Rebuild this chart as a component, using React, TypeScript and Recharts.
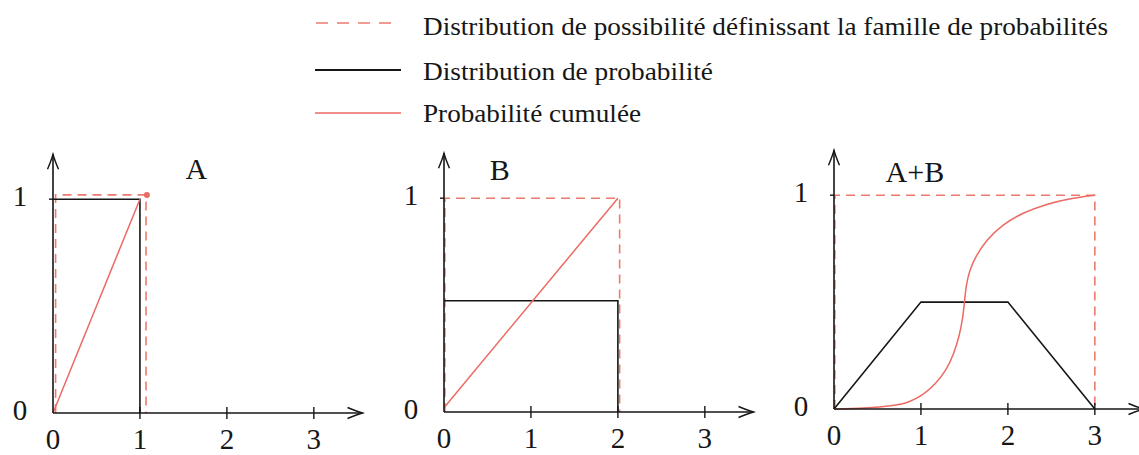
import React from 'react';
import { LineChart, Line, XAxis, YAxis, ReferenceLine, ReferenceDot } from 'recharts';

type Pt = { x: number; y: number };

// axis ticks shared by the three panels
const xTicks = [0, 1, 2, 3];
const yTicks = [0, 1];

// panel A : uniform on [0, 1]
const aPossibility: Pt[] = [
  { x: 0.03, y: 0 }, { x: 0.03, y: 1.02 }, { x: 1.07, y: 1.02 }, { x: 1.07, y: 0 },
];
const aDensity: Pt[] = [{ x: 0, y: 1 }, { x: 1, y: 1 }, { x: 1, y: 0 }];
const aCumulative: Pt[] = [{ x: 0, y: 0 }, { x: 1, y: 1 }];
const aPeak: Pt = { x: 1.08, y: 1.02 };

// panel B : uniform on [0, 2]
const bPossibility: Pt[] = [
  { x: 0.01, y: 0 }, { x: 0.01, y: 1 }, { x: 2.02, y: 1 }, { x: 2.02, y: 0 },
];
const bDensity: Pt[] = [{ x: 0, y: 0.52 }, { x: 2, y: 0.52 }, { x: 2, y: 0 }];
const bCumulative: Pt[] = [{ x: 0, y: 0.02 }, { x: 2, y: 1 }];

// panel A+B : trapezoid density and its S-shaped cumulative
const cPossibility: Pt[] = [
  { x: 0.01, y: 0 }, { x: 0.01, y: 1 }, { x: 3, y: 1 }, { x: 3, y: 0 },
];
const cDensity: Pt[] = [{ x: 0, y: 0 }, { x: 1, y: 0.5 }, { x: 2, y: 0.5 }, { x: 3, y: 0 }];
const cCumulative: Pt[] = [
  { x: 0, y: 0 }, { x: 0.33, y: 0.003 }, { x: 0.71, y: 0.016 }, { x: 0.86, y: 0.031 },
  { x: 1.02, y: 0.063 }, { x: 1.17, y: 0.118 }, { x: 1.29, y: 0.18 }, { x: 1.38, y: 0.26 },
  { x: 1.44, y: 0.34 }, { x: 1.48, y: 0.42 }, { x: 1.5, y: 0.5 }, { x: 1.52, y: 0.58 },
  { x: 1.56, y: 0.65 }, { x: 1.63, y: 0.714 }, { x: 1.75, y: 0.79 }, { x: 1.94, y: 0.863 },
  { x: 2.17, y: 0.918 }, { x: 2.44, y: 0.958 }, { x: 2.7, y: 0.984 }, { x: 3, y: 1 },
];

const legendItems = [
  { label: 'Distribution de possibilité définissant la famille de probabilités', kind: 'possibility' },
  { label: 'Distribution de probabilité', kind: 'density' },
  { label: 'Probabilité cumulée', kind: 'cumulative' },
];

const RED_DASH = '#ec7a6e';
const RED = '#eb6a63';
const INK = '#161616';
const FONT = 'Liberation Serif, Times New Roman, serif';

const PLOT_W = 313;
const PLOT_H = 263;
const AXIS_W = 40;
const AXIS_H = 45;

const arrowLine = (props: any) => {
  const { x1, y1, x2, y2 } = props;
  const dx = x2 - x1;
  const dy = y2 - y1;
  const len = Math.hypot(dx, dy) || 1;
  const ux = dx / len;
  const uy = dy / len;
  const bx = x2 - ux * 15;
  const by = y2 - uy * 15;
  const px = -uy * 5.5;
  const py = ux * 5.5;
  return (
    <g>
      <line x1={x1} y1={y1} x2={x2} y2={y2} stroke={INK} strokeWidth={1.6} />
      <path
        d={`M${bx + px},${by + py} Q${x2 - ux * 6 + px * 0.3},${y2 - uy * 6 + py * 0.3} ${x2},${y2} Q${x2 - ux * 6 - px * 0.3},${y2 - uy * 6 - py * 0.3} ${bx - px},${by - py}`}
        fill="none"
        stroke={INK}
        strokeWidth={1.4}
      />
    </g>
  );
};

const XTick = (props: any) => {
  const { x, y, payload } = props;
  return (
    <g>
      {payload.value > 0 && <line x1={x} y1={y - 6} x2={x} y2={y + 6} stroke={INK} strokeWidth={1.4} />}
      <text x={x} y={y + 36} textAnchor="middle" style={{ fontFamily: FONT, fontSize: 29 }} fill={INK}>
        {payload.value}
      </text>
    </g>
  );
};

const YTick = (props: any) => {
  const { x, y, payload } = props;
  return (
    <g>
      {payload.value > 0 && <line x1={x - 4} y1={y} x2={x} y2={y} stroke={INK} strokeWidth={1.4} />}
      <text x={x - 33} y={y + 7} textAnchor="middle" style={{ fontFamily: FONT, fontSize: 29 }} fill={INK}>
        {payload.value}
      </text>
    </g>
  );
};

interface PanelProps {
  left: number;
  top: number;
  title: string;
  titleAt: Pt;
  possibility: Pt[];
  density: Pt[];
  cumulative: Pt[];
  smooth?: boolean;
  peak?: Pt;
}

const Panel: React.FC<PanelProps> = ({ left, top, title, titleAt, possibility, density, cumulative, smooth, peak }) => (
  <div style={{ position: 'absolute', left, top }}>
    <LineChart
      width={AXIS_W + PLOT_W + 10}
      height={10 + PLOT_H + AXIS_H}
      margin={{ top: 10, right: 10, left: 0, bottom: 0 }}
    >
      <XAxis
        type="number"
        dataKey="x"
        domain={[0, 3.6]}
        ticks={xTicks}
        interval={0}
        axisLine={false}
        tickLine={false}
        tickSize={0}
        tickMargin={0}
        height={AXIS_H}
        tick={<XTick />}
      />
      <YAxis
        type="number"
        dataKey="y"
        domain={[0, 1.23]}
        ticks={yTicks}
        interval={0}
        axisLine={false}
        tickLine={false}
        tickSize={0}
        tickMargin={0}
        width={AXIS_W}
        tick={<YTick />}
      />
      <Line
        data={possibility}
        dataKey="y"
        type="linear"
        stroke={RED_DASH}
        strokeWidth={1.6}
        strokeDasharray="9 6"
        dot={false}
        isAnimationActive={false}
      />
      <Line
        data={density}
        dataKey="y"
        type="linear"
        stroke={INK}
        strokeWidth={1.6}
        dot={false}
        isAnimationActive={false}
      />
      <Line
        data={cumulative}
        dataKey="y"
        type={smooth ? 'basis' : 'linear'}
        stroke={RED}
        strokeWidth={1.5}
        dot={false}
        isAnimationActive={false}
      />
      <ReferenceLine segment={[{ x: 0, y: 0 }, { x: 3.56, y: 0 }]} ifOverflow="visible" shape={arrowLine} />
      <ReferenceLine segment={[{ x: 0, y: 0 }, { x: 0, y: 1.21 }]} ifOverflow="visible" shape={arrowLine} />
      {peak && <ReferenceDot x={peak.x} y={peak.y} r={3} fill={RED} stroke="none" ifOverflow="visible" />}
      <ReferenceDot
        x={titleAt.x}
        y={titleAt.y}
        ifOverflow="visible"
        shape={(p: any) => (
          <text
            x={p.cx}
            y={p.cy}
            textAnchor="middle"
            dominantBaseline="central"
            style={{ fontFamily: FONT, fontSize: 30 }}
            fill={INK}
          >
            {title}
          </text>
        )}
      />
    </LineChart>
  </div>
);

const Legend = () => {
  const rows = [
    { lineY: 23, textY: 35, width: 685 },
    { lineY: 70, textY: 80, width: 290 },
    { lineY: 113, textY: 122, width: 218 },
  ];
  return (
    <svg width={1139} height={140} style={{ position: 'absolute', left: 0, top: 0 }}>
      {legendItems.map((item, i) => {
        const r = rows[i];
        const stroke = item.kind === 'density' ? INK : item.kind === 'possibility' ? RED_DASH : RED;
        return (
          <g key={item.kind}>
            <line
              x1={item.kind === 'possibility' ? 316 : 315}
              x2={item.kind === 'possibility' ? 394 : 401}
              y1={r.lineY}
              y2={r.lineY}
              stroke={stroke}
              strokeWidth={item.kind === 'density' ? 1.8 : 1.6}
              strokeDasharray={item.kind === 'possibility' ? '12 9' : undefined}
            />
            <text
              x={423}
              y={r.textY}
              style={{ fontFamily: FONT, fontSize: 25 }}
              fill={INK}
              textLength={r.width}
              lengthAdjust="spacingAndGlyphs"
            >
              {item.label}
            </text>
          </g>
        );
      })}
    </svg>
  );
};

export default function App() {
  return (
    <div
      style={{
        position: 'absolute',
        left: 0,
        top: 0,
        width: 1139,
        height: 455,
        overflow: 'hidden',
        background: '#fff',
      }}
    >
      <Legend />
      <Panel
        left={13}
        top={140}
        title="A"
        titleAt={{ x: 1.65, y: 1.145 }}
        possibility={aPossibility}
        density={aDensity}
        cumulative={aCumulative}
        peak={aPeak}
      />
      <Panel
        left={404}
        top={139}
        title="B"
        titleAt={{ x: 0.64, y: 1.135 }}
        possibility={bPossibility}
        density={bDensity}
        cumulative={bCumulative}
      />
      <Panel
        left={794}
        top={136}
        title="A+B"
        titleAt={{ x: 0.93, y: 1.11 }}
        possibility={cPossibility}
        density={cDensity}
        cumulative={cCumulative}
        smooth
      />
    </div>
  );
}
